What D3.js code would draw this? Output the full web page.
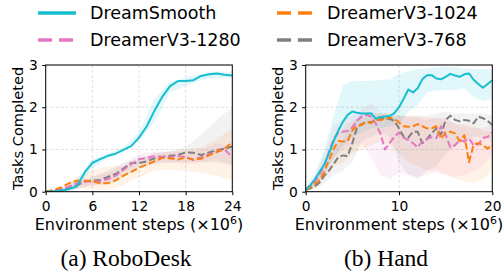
<!DOCTYPE html>
<meta charset="utf-8">
<style>
body { margin: 0; background: #fff; }
* { font-family: "DejaVu Sans", sans-serif; }
.tick text { font-size: 13.8px; fill: #000; }
.caption { font-family: "Liberation Serif", serif; font-size: 23.5px; }
</style>
<body>
<script src="https://d3js.org/d3.v7.min.js"></script>
<script>
// ---- data ----
var names = ["DreamSmooth", "DreamerV3-1024", "DreamerV3-1280", "DreamerV3-768"];
var colors = ["#17becf", "#ff7f0e", "#e377c2", "#7f7f7f"];

// (a) RoboDesk, steps x10^6
var deskX = [0,1,2,3,4,5,6,7,8,9,10,11,12,13,14,15,16,17,18,19,20,21,22,23,24];
var deskSmooth = [0,0.01,0.03,0.06,0.13,0.45,0.68,0.77,0.85,0.9,0.99,1.08,1.28,1.55,1.92,2.25,2.5,2.62,2.62,2.64,2.74,2.78,2.8,2.77,2.75];
var desk1024 = [0,0.04,0.1,0.2,0.26,0.26,0.25,0.2,0.2,0.27,0.38,0.47,0.57,0.64,0.72,0.8,0.79,0.76,0.81,0.76,0.78,0.86,0.94,1.02,1.17];
var desk1280 = [0,0.03,0.07,0.12,0.2,0.24,0.24,0.25,0.3,0.38,0.52,0.65,0.77,0.8,0.84,0.83,0.82,0.84,0.82,0.75,0.82,0.88,0.95,1.0,0.82];
var desk768 = [0,0.02,0.05,0.08,0.15,0.24,0.26,0.28,0.35,0.42,0.55,0.68,0.68,0.72,0.79,0.82,0.85,0.87,0.93,0.92,0.87,0.93,0.98,1.02,1.07];

var deskBandX = [0,2,4,6,8,10,12,14,16,18,20,22,24];
var deskSmoothLo = [0,0.01,0.05,0.55,0.8,0.95,1.2,1.65,2.35,2.5,2.65,2.7,2.7];
var deskSmoothHi = [0,0.05,0.3,0.78,0.9,1.05,1.4,2.2,2.6,2.7,2.8,2.85,2.82];
var desk1024Lo = [0,0.02,0.1,0.05,0.05,0.15,0.35,0.5,0.52,0.5,0.45,0.38,0.28];
var desk1024Hi = [0,0.08,0.35,0.5,0.6,0.6,0.75,0.9,0.95,1.0,1.05,1.25,1.5];
var desk1280Lo = [0,0.01,0.08,0.15,0.2,0.45,0.65,0.7,0.7,0.65,0.7,0.75,0.6];
var desk1280Hi = [0,0.05,0.28,0.35,0.45,0.65,0.9,0.95,0.95,0.95,1.0,1.15,1.05];
var desk768Lo = [0,0.01,0.05,0.15,0.2,0.35,0.55,0.65,0.7,0.7,0.7,0.7,0.65];
var desk768Hi = [0,0.05,0.2,0.35,0.5,0.7,0.8,0.92,0.95,1.05,1.35,1.7,2.0];

// (b) Hand, steps x10^6
var handX = [0,0.5,1,1.5,2,2.5,3,3.5,4,4.5,5,5.5,6,6.5,7,7.5,8,8.5,9,9.5,10,10.5,11,11.5,12,12.5,13,13.5,14,14.5,15,15.5,16,16.5,17,17.5,18,18.5,19,19.5,20];
var handSmooth = [0.04,0.15,0.3,0.48,0.65,0.92,1.2,1.45,1.66,1.82,1.9,1.87,1.85,1.85,1.86,1.73,1.77,1.78,1.79,1.86,2.0,2.2,2.42,2.35,2.45,2.66,2.76,2.76,2.68,2.66,2.72,2.79,2.75,2.72,2.78,2.8,2.65,2.55,2.46,2.55,2.64];
var hand1024 = [0.05,0.1,0.18,0.28,0.48,0.75,1.02,1.2,1.19,1.2,1.45,1.57,1.58,1.66,1.62,1.71,1.7,1.72,1.76,1.72,1.64,1.55,1.54,1.55,1.6,1.55,1.5,1.5,1.55,1.25,1.4,1.42,1.38,1.2,1.34,0.7,1.12,1.15,1.1,1.02,1.11];
var hand1280 = [0.06,0.15,0.25,0.42,0.62,0.95,1.25,1.4,1.42,1.44,1.52,1.68,1.78,1.82,1.78,1.62,1.38,1.0,1.15,1.3,1.4,1.28,1.22,1.15,1.05,1.2,1.25,1.29,1.27,1.55,1.35,1.05,1.1,1.22,1.19,1.26,1.1,1.12,1.27,1.3,1.4];
var hand768 = [0.04,0.08,0.13,0.22,0.38,0.5,0.66,0.82,0.86,0.84,1.15,1.52,1.6,1.65,1.65,1.67,1.72,1.74,1.72,1.68,1.5,1.3,1.28,1.42,1.42,1.15,1.25,1.38,1.5,1.35,1.7,1.8,1.7,1.67,1.7,1.68,1.62,1.78,1.74,1.68,1.58];

var handBandX = [0,1,2,3,4,5,6,7,8,9,10,11,12,13,14,15,16,17,18,19,20];
var handSmoothLo = [0,0.15,0.4,0.8,1.1,1.3,1.4,1.5,1.5,1.55,1.6,1.9,2.05,2.35,2.4,2.4,2.4,2.45,2.25,2.15,2.2];
var handSmoothHi = [0.1,0.45,1.0,1.8,2.5,2.62,2.62,2.62,2.65,2.65,2.8,2.85,2.9,2.92,2.95,2.95,2.95,2.92,2.9,2.9,2.9];
var hand1024Lo = [0.02,0.1,0.3,0.6,0.7,0.9,1.0,1.1,1.2,1.1,0.9,0.7,0.6,0.5,0.5,0.4,0.3,0.25,0.2,0.3,0.5];
var hand1024Hi = [0.08,0.3,0.7,1.3,1.5,1.7,1.75,1.8,1.85,1.85,1.8,1.8,1.8,1.75,1.75,1.7,1.6,1.6,1.55,1.45,1.4];
var hand1280Lo = [0.02,0.1,0.4,0.8,1.0,1.1,1.15,0.8,0.4,0.3,0.45,0.4,0.35,0.4,0.45,0.4,0.35,0.4,0.5,0.6,0.9];
var hand1280Hi = [0.1,0.35,0.9,1.55,1.7,1.8,1.95,2.1,1.9,1.75,1.8,1.75,1.75,1.7,1.75,1.75,1.6,1.55,1.5,1.5,1.6];
var hand768Lo = [0.02,0.05,0.2,0.4,0.5,0.7,1.2,1.3,1.4,1.3,0.7,0.4,0.3,0.5,0.6,0.9,1.1,1.2,1.3,1.3,1.2];
var hand768Hi = [0.06,0.25,0.6,1.0,1.2,1.6,1.9,1.85,1.85,1.85,1.8,1.8,1.8,1.8,1.85,1.9,1.85,1.85,1.85,1.85,1.8];

var deskTicks = [0,6,12,18,24];
var handTicks = [0,10,20];
var yTicks = [0,1,2,3];

var panels = [
  {id: "a", caption: "(a) RoboDesk", x0: 45.7, x1: 232.3, max: 24, ticks: deskTicks,
   x: deskX, lines: [deskSmooth, desk1024, desk1280, desk768],
   bx: deskBandX, lo: [deskSmoothLo, desk1024Lo, desk1280Lo, desk768Lo], hi: [deskSmoothHi, desk1024Hi, desk1280Hi, desk768Hi],
   ytitle: 18, capX: 126},
  {id: "b", caption: "(b) Hand", x0: 305.7, x1: 492.3, max: 20, ticks: handTicks,
   x: handX, lines: [handSmooth, hand1024, hand1280, hand768],
   bx: handBandX, lo: [handSmoothLo, hand1024Lo, hand1280Lo, hand768Lo], hi: [handSmoothHi, hand1024Hi, hand1280Hi, hand768Hi],
   ytitle: 278, capX: 386}
];

var width = 504, height = 272;
var plotTop = 65, plotBottom = 191.7;

var svg = d3.select("body").append("svg")
    .attr("width", width)
    .attr("height", height);

var y = d3.scaleLinear().domain([0, 3]).range([plotBottom, plotTop]);

panels.forEach(function(p) {
  var x = d3.scaleLinear().domain([0, p.max]).range([p.x0, p.x1]);
  var g = svg.append("g");

  g.append("clipPath").attr("id", "clip-" + p.id)
    .append("rect")
      .attr("x", p.x0).attr("y", plotTop)
      .attr("width", p.x1 - p.x0).attr("height", plotBottom - plotTop);

  // grid
  g.append("g").selectAll("line").data(p.ticks).enter().append("line")
      .attr("x1", function(d) { return x(d); }).attr("x2", function(d) { return x(d); })
      .attr("y1", plotTop).attr("y2", plotBottom)
      .attr("stroke", "#d8d8d8").attr("stroke-width", 0.8).attr("stroke-dasharray", "3,2");
  g.append("g").selectAll("line").data(yTicks).enter().append("line")
      .attr("x1", p.x0).attr("x2", p.x1)
      .attr("y1", function(d) { return y(d); }).attr("y2", function(d) { return y(d); })
      .attr("stroke", "#d8d8d8").attr("stroke-width", 0.8).attr("stroke-dasharray", "3,2");

  var plot = g.append("g").attr("clip-path", "url(#clip-" + p.id + ")");

  // shaded bands
  p.lo.forEach(function(lo, i) {
    var area = d3.area()
        .x(function(d, j) { return x(p.bx[j]); })
        .y0(function(d, j) { return y(lo[j]); })
        .y1(function(d, j) { return y(p.hi[i][j]); });
    plot.append("path")
        .datum(lo)
        .attr("d", area)
        .attr("fill", colors[i])
        .attr("fill-opacity", i == 0 ? 0.13 : 0.1);
  });

  // lines (baselines first, DreamSmooth on top)
  [3, 2, 1, 0].forEach(function(i) {
    var line = d3.line()
        .x(function(d, j) { return x(p.x[j]); })
        .y(function(d) { return y(d); });
    plot.append("path")
        .datum(p.lines[i])
        .attr("d", line)
        .attr("fill", "none")
        .attr("stroke", colors[i])
        .attr("stroke-width", 2)
        .attr("stroke-linejoin", "round")
        .attr("stroke-dasharray", i == 0 ? null : "7,3");
  });

  // frame
  g.append("rect")
      .attr("x", p.x0).attr("y", plotTop)
      .attr("width", p.x1 - p.x0).attr("height", plotBottom - plotTop)
      .attr("fill", "none").attr("stroke", "#000").attr("stroke-width", 1);

  var xAxis = g.append("g")
      .attr("transform", "translate(0," + plotBottom + ")")
      .call(d3.axisBottom(x).tickValues(p.ticks).tickFormat(d3.format("d")).tickSize(3.5).tickPadding(6.5));
  var yAxis = g.append("g")
      .attr("transform", "translate(" + p.x0 + ",0)")
      .call(d3.axisLeft(y).tickValues(yTicks).tickFormat(d3.format("d")).tickSize(3.5).tickPadding(4.5));
  [xAxis, yAxis].forEach(function(a) {
    a.select(".domain").remove();
    a.selectAll(".tick line").attr("stroke", "#000");
    a.attr("font-family", null).attr("font-size", null);
  });

  // axis titles
  var xt = g.append("text")
      .attr("x", (p.x0 + p.x1) / 2)
      .attr("y", 230)
      .attr("text-anchor", "middle")
      .style("font-size", "16px");
  xt.append("tspan").text("Environment steps (\u00d710");
  xt.append("tspan").attr("dy", -6).style("font-size", "11px").text("6");
  xt.append("tspan").attr("dy", 6).text(")");

  g.append("text")
      .attr("transform", "translate(" + p.ytitle + "," + ((plotTop + plotBottom) / 2) + ") rotate(-90)")
      .attr("text-anchor", "middle")
      .attr("dy", "0.35em")
      .style("font-size", "14.6px")
      .text("Tasks Completed");

  g.append("text")
      .attr("class", "caption")
      .attr("x", p.capX)
      .attr("y", 266)
      .attr("text-anchor", "middle")
      .text(p.caption);
});

// legend
var legendPos = [
  {lx: 38, tx: 90, y: 13},
  {lx: 277, tx: 327, y: 13},
  {lx: 38, tx: 90, y: 40},
  {lx: 277, tx: 327, y: 40}
];
var leg = svg.append("g").selectAll("g")
    .data(names)
  .enter().append("g");
leg.append("line")
    .attr("x1", function(d, i) { return legendPos[i].lx; })
    .attr("x2", function(d, i) { return legendPos[i].lx + 38; })
    .attr("y1", function(d, i) { return legendPos[i].y; })
    .attr("y2", function(d, i) { return legendPos[i].y; })
    .attr("stroke", function(d, i) { return colors[i]; })
    .attr("stroke-width", 3.5)
    .attr("stroke-dasharray", function(d, i) { return i == 0 ? null : "14,7"; });
leg.append("text")
    .attr("x", function(d, i) { return legendPos[i].tx; })
    .attr("y", function(d, i) { return legendPos[i].y; })
    .attr("dy", "0.36em")
    .style("font-size", "17.5px")
    .text(function(d) { return d; });
</script>
